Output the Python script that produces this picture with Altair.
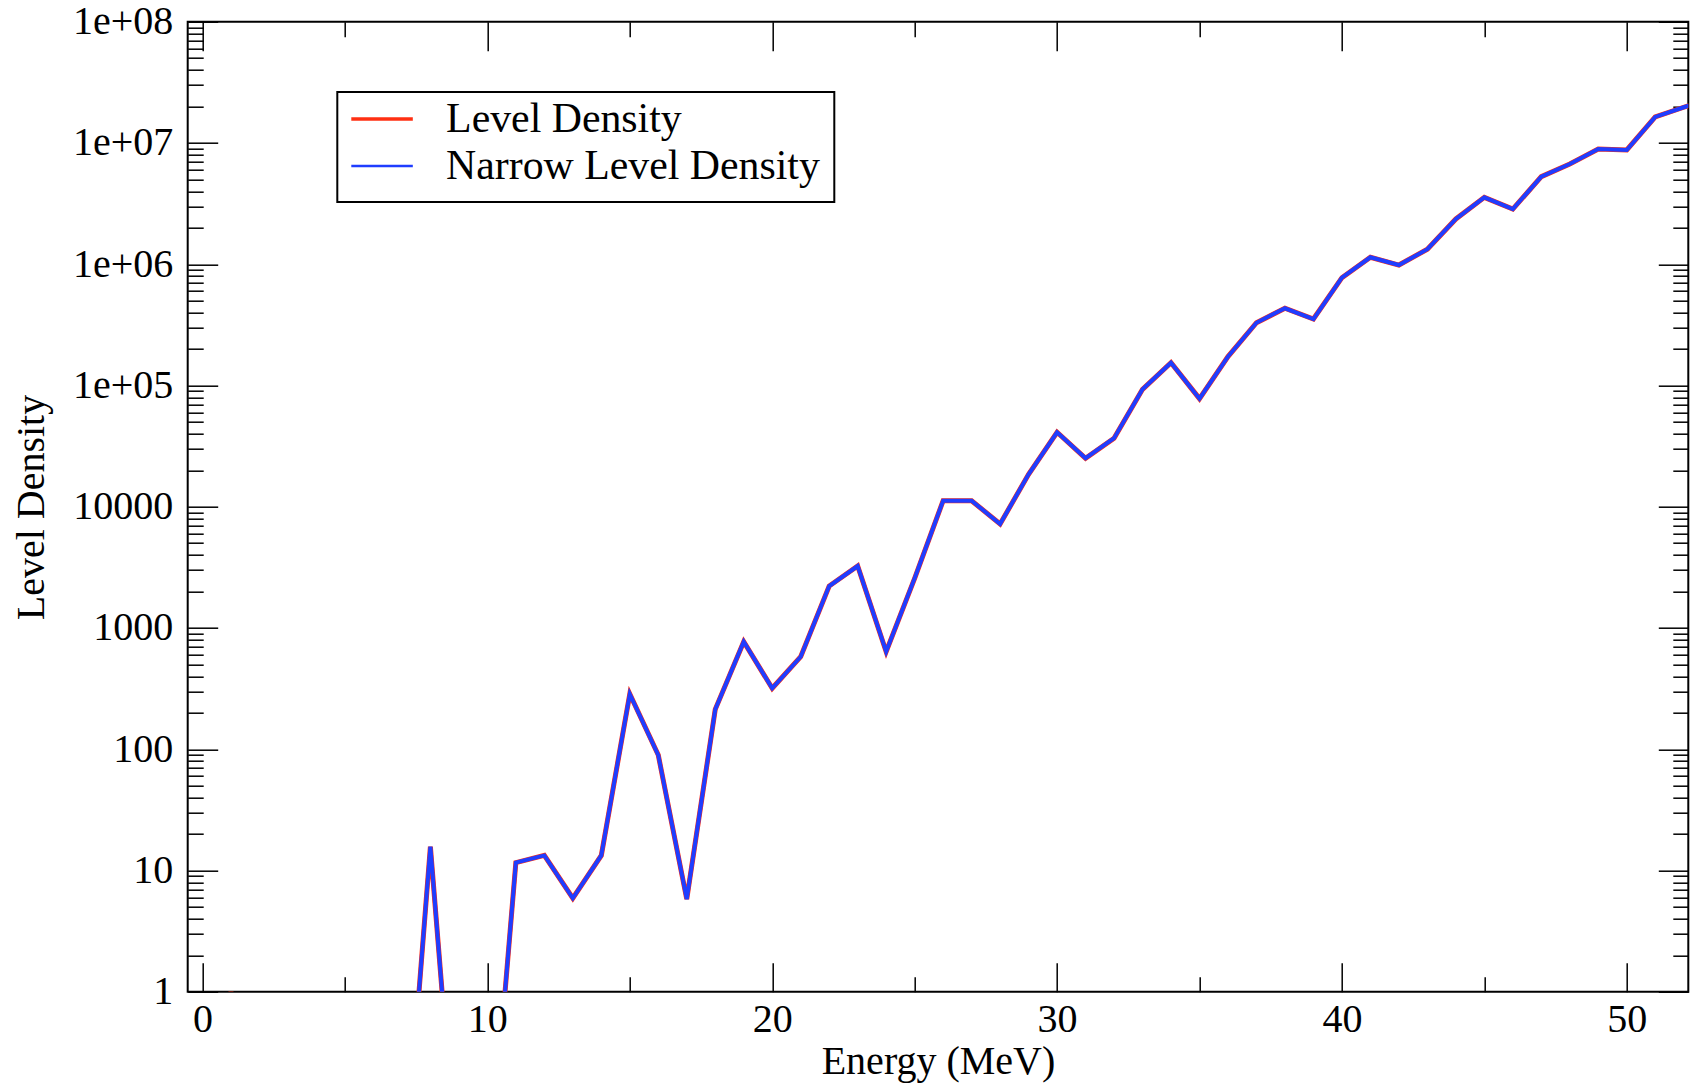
import altair as alt
import pandas as pd

# ---------------- data ----------------
energy = list(range(0, 54))
level_density = [
    0.001, 1.0, 0.001, 0.001, 0.001, 0.001, 0.001, 0.016, 15.7, 0.019, 0.018,
    11.6, 13.3, 5.9, 13.3, 285, 89.5, 5.8, 213, 770, 318,
    579, 2218, 3243, 637, 2566, 11200, 11200, 7200, 18500, 41100,
    25100, 36700, 92900, 154000, 77800, 173000, 329000, 433000, 353000, 774000,
    1.14e6, 9.84e5, 1.33e6, 2.36e6, 3.56e6, 2.85e6, 5.27e6, 6.7e6, 8.91e6, 8.75e6,
    1.64e7, 1.97e7, 2.34e7,
]
narrow_level_density = [
    0.001, 0.001, 0.001, 0.001, 0.001, 0.001, 0.001, 0.016, 15.7, 0.019, 0.018,
    11.6, 13.3, 5.9, 13.3, 285, 89.5, 5.8, 213, 770, 318,
    579, 2218, 3243, 637, 2566, 11200, 11200, 7200, 18500, 41100,
    25100, 36700, 92900, 154000, 77800, 173000, 329000, 433000, 353000, 774000,
    1.14e6, 9.84e5, 1.33e6, 2.36e6, 3.56e6, 2.85e6, 5.27e6, 6.7e6, 8.91e6, 8.75e6,
    1.64e7, 1.97e7, 2.34e7,
]
series_names = ["Level Density", "Narrow Level Density"]
series_colors = ["#ff2f12", "#1f3dff"]

x_major = [0, 10, 20, 30, 40, 50]
x_minor = [5, 15, 25, 35, 45]
y_major = [1, 10, 100, 1000, 10000, 100000, 1000000, 10000000, 100000000]
y_major_labels = ["1", "10", "100", "1000", "10000", "1e+05", "1e+06", "1e+07", "1e+08"]
y_minor = [k * 10 ** d for d in range(8) for k in range(2, 10)]

df = pd.DataFrame({
    "energy": energy,
    "level": level_density,
    "narrow": narrow_level_density,
})

FONT = "Liberation Serif"
label_expr = " : ".join(
    f"datum.value == {v} ? '{l}'" for v, l in zip(y_major, y_major_labels)
) + " : ''"

xscale = alt.Scale(domain=[-0.52, 52.16], nice=False, zero=False)
yscale = alt.Scale(type="log", domain=[1, 100000000], nice=False)
cscale = alt.Scale(domain=series_names, range=series_colors)

common = dict(domain=False, grid=False, tickColor="black", tickWidth=1.5)

legend = alt.Legend(
    title=None, orient="none", legendX=149.6, legendY=70.3,
    symbolType="stroke", symbolSize=6600,
    symbolStrokeWidth=alt.ExprRef(expr="datum.value == 'Level Density' ? 3.5 : 2.4"),
    labelFont=FONT, labelFontSize=41.8, labelColor="black", labelLimit=1000,
    labelOffset=53, padding=14, rowPadding=5, clipHeight=26,
    strokeColor="black",
)

base = alt.Chart(df)

red = base.transform_calculate(series=f"'{series_names[0]}'").mark_line(
    clip=True, strokeWidth=5, strokeJoin="miter").encode(
    x=alt.X("energy:Q", scale=xscale, axis=alt.Axis(
        orient="bottom", values=x_major, tickSize=29, offset=-29,
        labelPadding=8, labelFlush=False, labelFont=FONT, labelFontSize=40,
        labelColor="black", title="Energy (MeV)", titleFont=FONT,
        titleFontSize=40, titleFontWeight="normal", titleColor="black",
        titleY=110.3, titleBaseline="alphabetic", **common)),
    y=alt.Y("level:Q", scale=yscale, axis=alt.Axis(
        orient="left", values=y_major, tickSize=30, offset=-30,
        labelPadding=15, labelFlush=False, labelExpr=label_expr,
        labelFont=FONT, labelFontSize=40, labelColor="black",
        labelOverlap=False,
        title="Level Density", titleFont=FONT, titleFontSize=40,
        titleFontWeight="normal", titleColor="black", titleAngle=270,
        titleX=-174.7, titleY=485.3, titleBaseline="alphabetic",
        titleAlign="center", **common)),
    color=alt.Color("series:N", scale=cscale, legend=legend),
)

blue = base.transform_calculate(series=f"'{series_names[1]}'").mark_line(
    clip=True, strokeWidth=4, strokeJoin="miter").encode(
    x=alt.X("energy:Q", scale=xscale, axis=alt.Axis(
        orient="bottom", values=x_minor, tickSize=15, offset=-15,
        labels=False, title=None, **common)),
    y=alt.Y("narrow:Q", scale=yscale, axis=alt.Axis(
        orient="left", values=y_minor, tickSize=15.5, offset=-15.5,
        labels=False, title=None, **common)),
    color=alt.Color("series:N", scale=cscale, legend=legend),
)

top_right_major = base.mark_line(clip=True, strokeOpacity=0).encode(
    x=alt.X("energy:Q", scale=xscale, axis=alt.Axis(
        orient="top", values=x_major, tickSize=29, offset=-29,
        labels=False, title=None, **common)),
    y=alt.Y("level:Q", scale=yscale, axis=alt.Axis(
        orient="right", values=y_major, tickSize=30, offset=-30,
        labels=False, title=None, **common)),
)

top_right_minor = base.mark_line(clip=True, strokeOpacity=0).encode(
    x=alt.X("energy:Q", scale=xscale, axis=alt.Axis(
        orient="top", values=x_minor, tickSize=15, offset=-15,
        labels=False, title=None, **common)),
    y=alt.Y("level:Q", scale=yscale, axis=alt.Axis(
        orient="right", values=y_minor, tickSize=15.5, offset=-15.5,
        labels=False, title=None, **common)),
)

chart = alt.layer(red, blue, top_right_major, top_right_minor).resolve_axis(
    x="independent", y="independent"
).properties(
    width=1500.6, height=970,
    autosize=alt.AutoSizeParams(type="none"),
    padding={"left": 187.7, "top": 21.7, "right": 5.7, "bottom": 93.3},
    background="white",
).configure_view(
    stroke="black", strokeWidth=2
).configure_legend(
    strokeWidth=2
)

chart.save("out.html", embed_options={"renderer": "svg", "actions": False})
